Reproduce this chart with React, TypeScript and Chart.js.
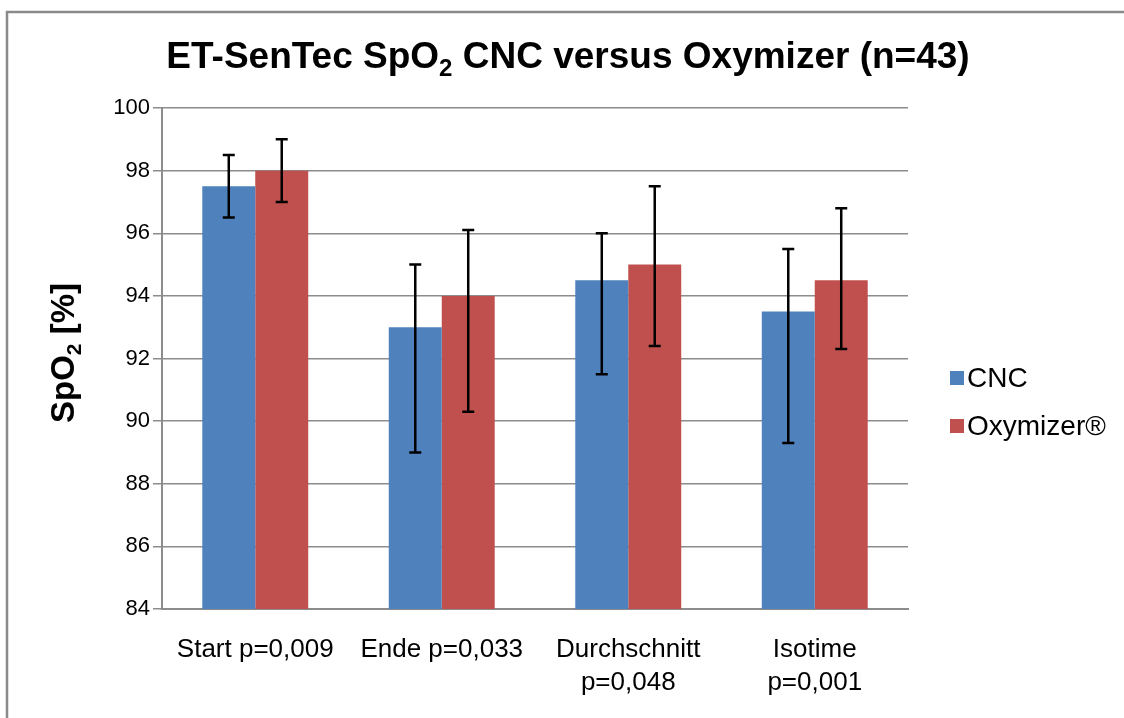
import React, { useEffect, useRef } from "react";
import { Chart, registerables } from "chart.js";

Chart.register(...registerables);

const categories: string[][] = [
  ["Start p=0,009"],
  ["Ende p=0,033"],
  ["Durchschnitt", "p=0,048"],
  ["Isotime", "p=0,001"],
];
const seriesNames = ["CNC", "Oxymizer®"];
const cncValues = [97.5, 93.0, 94.5, 93.5];
const oxyValues = [98.0, 94.0, 95.0, 94.5];
const cncErrLow = [96.5, 89.0, 91.5, 89.3];
const cncErrHigh = [98.5, 95.0, 96.0, 95.5];
const oxyErrLow = [97.0, 90.3, 92.4, 92.3];
const oxyErrHigh = [99.0, 96.1, 97.5, 96.8];
const yMin = 84;
const yMax = 100;
const yStep = 2;

const FONT = "'Liberation Sans', Arial, sans-serif";
const BLUE = "#4F81BD";
const RED = "#C0504D";
const GRID = "#8c8c8c";

function drawSubText(
  ctx: CanvasRenderingContext2D,
  parts: { t: string; sub?: boolean }[],
  size: number,
  subSize: number,
  subShift: number
) {
  const widths = parts.map((p) => {
    ctx.font = `bold ${p.sub ? subSize : size}px ${FONT}`;
    return ctx.measureText(p.t).width;
  });
  const total = widths.reduce((a, b) => a + b, 0);
  let x = -total / 2;
  parts.forEach((p, i) => {
    ctx.font = `bold ${p.sub ? subSize : size}px ${FONT}`;
    ctx.fillText(p.t, x, p.sub ? subShift : 0);
    x += widths[i];
  });
}

const decorPlugin = {
  id: "decor",
  beforeDraw(chart: any) {
    const ctx = chart.ctx as CanvasRenderingContext2D;
    ctx.save();
    ctx.fillStyle = "#ffffff";
    ctx.fillRect(0, 0, chart.width, chart.height);
    ctx.strokeStyle = "#8a8a8a";
    ctx.lineWidth = 2.5;
    ctx.beginPath();
    ctx.moveTo(7, chart.height + 5);
    ctx.lineTo(7, 12);
    ctx.lineTo(chart.width + 5, 12);
    ctx.stroke();
    ctx.restore();
  },
  afterDraw(chart: any) {
    const ctx = chart.ctx as CanvasRenderingContext2D;
    ctx.save();
    ctx.fillStyle = "#000000";
    ctx.textBaseline = "alphabetic";
    ctx.textAlign = "left";
    // Title
    ctx.save();
    ctx.translate(568, 68);
    drawSubText(
      ctx,
      [
        { t: "ET-SenTec SpO" },
        { t: "2", sub: true },
        { t: " CNC versus Oxymizer (n=43)" },
      ],
      37,
      24,
      8
    );
    ctx.restore();
    // Y axis title
    ctx.save();
    ctx.translate(74, 353);
    ctx.rotate(-Math.PI / 2);
    drawSubText(
      ctx,
      [{ t: "SpO" }, { t: "2", sub: true }, { t: " [%]" }],
      33,
      21,
      7
    );
    ctx.restore();
    // Legend
    const colors = [BLUE, RED];
    const ys = [378, 426];
    ctx.font = `28px ${FONT}`;
    ctx.textBaseline = "middle";
    seriesNames.forEach((name, i) => {
      ctx.fillStyle = colors[i];
      ctx.fillRect(950, ys[i] - 7, 14, 14);
      ctx.fillStyle = "#000000";
      ctx.fillText(name, 967, ys[i] + 1);
    });
    ctx.restore();
  },
  afterDatasetsDraw(chart: any) {
    const ctx = chart.ctx as CanvasRenderingContext2D;
    const yScale = chart.scales.y;
    const lows = [cncErrLow, oxyErrLow];
    const highs = [cncErrHigh, oxyErrHigh];
    ctx.save();
    ctx.strokeStyle = "#000000";
    ctx.lineWidth = 2.5;
    [0, 1].forEach((di) => {
      const meta = chart.getDatasetMeta(di);
      meta.data.forEach((bar: any, i: number) => {
        const x = bar.x;
        const yl = yScale.getPixelForValue(lows[di][i]);
        const yh = yScale.getPixelForValue(highs[di][i]);
        ctx.beginPath();
        ctx.moveTo(x, yl);
        ctx.lineTo(x, yh);
        ctx.moveTo(x - 6, yl);
        ctx.lineTo(x + 6, yl);
        ctx.moveTo(x - 6, yh);
        ctx.lineTo(x + 6, yh);
        ctx.stroke();
      });
    });
    ctx.restore();
  },
};

export default function App() {
  const ref = useRef<HTMLCanvasElement>(null);
  useEffect(() => {
    if (!ref.current) return;
    const chart = new Chart(ref.current, {
      type: "bar",
      data: {
        labels: categories,
        datasets: [
          {
            label: seriesNames[0],
            data: cncValues,
            backgroundColor: BLUE,
            categoryPercentage: 0.568,
            barPercentage: 1,
          },
          {
            label: seriesNames[1],
            data: oxyValues,
            backgroundColor: RED,
            categoryPercentage: 0.568,
            barPercentage: 1,
          },
        ],
      },
      options: {
        animation: false,
        responsive: false,
        maintainAspectRatio: false,
        layout: { padding: { left: 0, right: 216, top: 108, bottom: 0 } },
        plugins: {
          legend: { display: false },
          title: { display: false },
          tooltip: { enabled: false },
        },
        scales: {
          x: {
            afterFit: (scale: any) => {
              scale.height = 109;
            },
            grid: { display: false, drawTicks: false },
            border: { display: true, color: GRID, width: 2 },
            ticks: {
              color: "#000000",
              font: { family: FONT, size: 26, lineHeight: 1.25 },
              padding: 25,
              maxRotation: 0,
              autoSkip: false,
            },
          },
          y: {
            min: yMin,
            max: yMax,
            afterFit: (scale: any) => {
              scale.width = 162;
            },
            grid: {
              color: GRID,
              lineWidth: 1.5,
              tickLength: 9,
              drawTicks: true,
            },
            border: { display: true, color: GRID, width: 2 },
            ticks: {
              stepSize: yStep,
              color: "#000000",
              font: { family: FONT, size: 22 },
              padding: 3,
            },
          },
        },
      },
      plugins: [decorPlugin],
    });
    return () => chart.destroy();
  }, []);
  return (
    <div style={{ position: "fixed", left: 0, top: 0, width: 1124, height: 718 }}>
      <canvas ref={ref} width={1124} height={718} style={{ display: "block" }} />
    </div>
  );
}
